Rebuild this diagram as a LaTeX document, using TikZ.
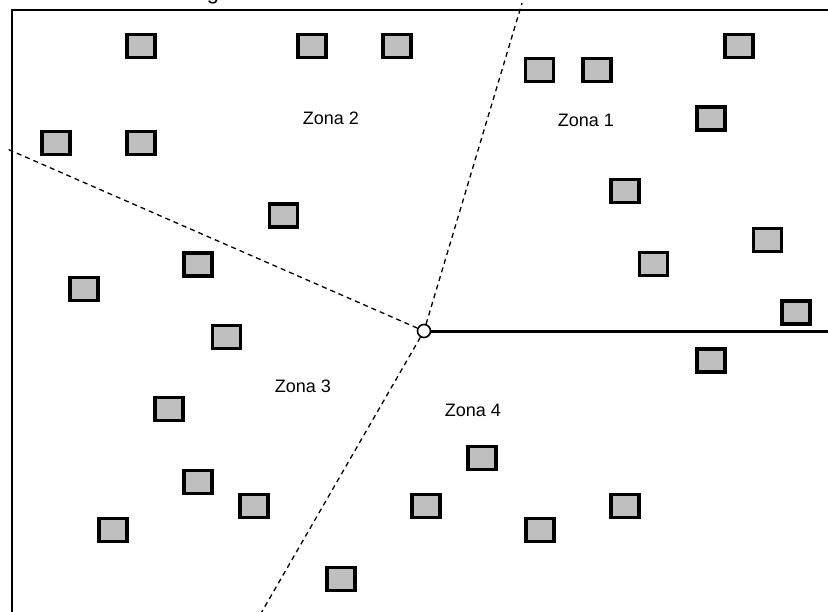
\documentclass[tikz,border=0pt]{standalone}
\usepackage{fontspec}
\setmainfont{Liberation Sans}
\begin{document}
\begin{tikzpicture}[x=1pt,y=-1pt,
  site/.style={draw=black, fill=black!25, line width=3.2pt, minimum width=28pt,
    minimum height=23pt, inner sep=0pt},
  zone/.style={font=\fontsize{18}{21}\selectfont, inner sep=0pt},
  border/.style={line width=2pt, line cap=rect},
  boundary/.style={line width=1.3pt, dash pattern=on 5pt off 4pt},
  feeder/.style={line width=3pt},
  hub/.style={circle, draw=black, fill=white, line width=1.6pt, minimum size=13pt, inner sep=0pt}]
  \useasboundingbox (0,0) rectangle (828,611);

  % cut-off caption above the frame
  \node[font=\fontsize{22}{26}\selectfont, anchor=base, inner sep=0pt] (cap) at (213,-1) {g};

  % frame
  \draw[border] (12,615) -- (12,10) -- (832,10);

  % central point and zone boundaries
  \node[hub] (c) at (424,331) {};
  \coordinate (top) at (522,3);
  \coordinate (lft) at (5,148);
  \coordinate (bot) at (260,615);
  \coordinate (rgt) at (830,331);
  \draw[boundary] (c) -- (top);
  \draw[boundary] (c) -- (lft);
  \draw[boundary] (c) -- (bot);
  \draw[feeder] (c) -- (rgt);

  % sites
  \foreach \p [count=\i] in {
    (141,46),(312,46),(397,46),(539.5,70),(597,70),(739,46),
    (56,143),(141,143),(711,118.5),(625,191),(283.5,215.5),(767.5,240),
    (198,264.5),(653.5,264),(84,289),(796,312.5),(226.5,337),(711,360.5),
    (169,409),(482,458),(198,482),(254,506),(426,506),(625,506),
    (113,530),(540,530),(341,579)}
    \node[site] (s\i) at \p {};

  % zone labels
  \node[zone] (z1) at (586,120) {Zona 1};
  \node[zone] (z2) at (331,118) {Zona 2};
  \node[zone] (z3) at (303,386) {Zona 3};
  \node[zone] (z4) at (473,410) {Zona 4};
\end{tikzpicture}
\end{document}
